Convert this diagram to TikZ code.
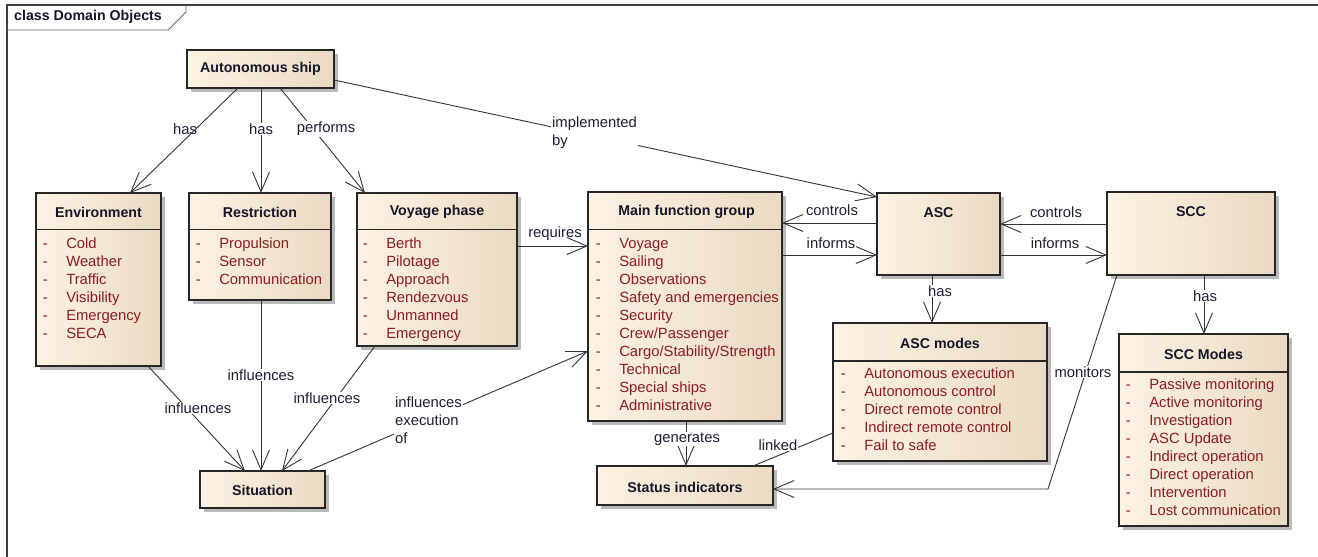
\documentclass[tikz,border=0pt]{standalone}
\usepackage{fontspec}
\setmainfont{Liberation Sans}
\usetikzlibrary{arrows.meta,shadows}

\definecolor{boxL}{RGB}{252,242,227}
\definecolor{boxR}{RGB}{234,218,195}
\definecolor{itemc}{RGB}{140,28,36}
\definecolor{ttlc}{RGB}{22,22,40}
\definecolor{lblc}{RGB}{30,30,50}

\newcommand{\itm}[1]{\strut\makebox[23.5pt][l]{-}#1}

\tikzset{
  cls/.style={draw=black!85, line width=1.2pt, left color=boxL, right color=boxR,
    anchor=north west, inner sep=0pt, outer sep=0pt,
    drop shadow={shadow xshift=4pt, shadow yshift=-4pt, fill=black!45, opacity=0.6}},
  ttl/.style={font=\bfseries\fontsize{14.2}{17}\selectfont, text=ttlc},
  attr/.style={font=\fontsize{14.8}{18}\selectfont, text=itemc, align=left,
    anchor=north west, inner sep=0pt},
  lbl/.style={font=\fontsize{14.8}{17}\selectfont, text=lblc, inner sep=1pt},
  onln/.style={lbl, fill=white},
  arr/.style={draw=black!80, line width=0.9pt, -{Straight Barb[length=20pt,width=17pt]}},
  ln/.style={draw=black!80, line width=0.9pt},
  sep/.style={draw=black!85, line width=1.2pt}
}

\begin{document}
\begin{tikzpicture}[x=1pt,y=-1pt]
\useasboundingbox (0,0) rectangle (1318,557);

% frame
\draw[line width=1.6pt, black!75] (1318,5) -- (7,5) -- (7,557);
\draw[line width=0.8pt, black!60] (7,30) -- (168,30) -- (186,12) -- (186,5);
\node[ttl] (frm) at (88,17) {class Domain Objects};

% classes
\node[cls, minimum width=147pt, minimum height=38pt] (ship) at (187,50) {};
\node[ttl] (shipT) at (260.5,69) {Autonomous ship};

\node[cls, minimum width=125pt, minimum height=173pt] (env) at (36,193) {};
\draw[sep] (36,229.5) -- (161,229.5);
\node[ttl] (envT) at (98.5,212) {Environment};
\node[attr] (envL) at (42.6,235.6) {\itm{Cold}\\\itm{Weather}\\\itm{Traffic}\\\itm{Visibility}\\\itm{Emergency}\\\itm{SECA}};

\node[cls, minimum width=142pt, minimum height=107pt] (rest) at (189,193) {};
\draw[sep] (189,229.5) -- (331,229.5);
\node[ttl] (restT) at (260,212) {Restriction};
\node[attr] (restL) at (195.6,235.6) {\itm{Propulsion}\\\itm{Sensor}\\\itm{Communication}};

\node[cls, minimum width=160pt, minimum height=153pt] (voy) at (357,193) {};
\draw[sep] (357,229.5) -- (517,229.5);
\node[ttl] (voyT) at (437,212) {Voyage phase};
\node[attr] (voyL) at (362.6,235.6) {\itm{Berth}\\\itm{Pilotage}\\\itm{Approach}\\\itm{Rendezvous}\\\itm{Unmanned}\\\itm{Emergency}};

\node[cls, minimum width=194pt, minimum height=229pt] (mfg) at (588,192) {};
\draw[sep] (588,229.5) -- (782,229.5);
\node[ttl] (mfgT) at (686.5,212) {Main function group};
\node[attr] (mfgL) at (595.6,235.6) {\itm{Voyage}\\\itm{Sailing}\\\itm{Observations}\\\itm{Safety and emergencies}\\\itm{Security}\\\itm{Crew/Passenger}\\\itm{Cargo/Stability/Strength}\\\itm{Technical}\\\itm{Special ships}\\\itm{Administrative}};

\node[cls, minimum width=123pt, minimum height=82pt] (asc) at (877,193) {};
\node[ttl] (ascT) at (938.5,213) {ASC};

\node[cls, minimum width=168pt, minimum height=83pt] (scc) at (1107,192) {};
\node[ttl] (sccT) at (1191,212) {SCC};

\node[cls, minimum width=214pt, minimum height=138pt] (ascm) at (833,323) {};
\draw[sep] (833,361) -- (1047,361);
\node[ttl] (ascmT) at (940,343) {ASC modes};
\node[attr] (ascmL) at (840.6,365.6) {\itm{Autonomous execution}\\\itm{Autonomous control}\\\itm{Direct remote control}\\\itm{Indirect remote control}\\\itm{Fail to safe}};

\node[cls, minimum width=169pt, minimum height=192pt] (sccm) at (1119,334) {};
\draw[sep] (1119,372) -- (1288,372);
\node[ttl] (sccmT) at (1203.5,354) {SCC Modes};
\node[attr] (sccmL) at (1125.6,376.6) {\itm{Passive monitoring}\\\itm{Active monitoring}\\\itm{Investigation}\\\itm{ASC Update}\\\itm{Indirect operation}\\\itm{Direct operation}\\\itm{Intervention}\\\itm{Lost communication}};

\node[cls, minimum width=125pt, minimum height=37pt] (sit) at (200,471) {};
\node[ttl] (sitT) at (262.5,490) {Situation};

\node[cls, minimum width=176pt, minimum height=39pt] (stat) at (597,466) {};
\node[ttl] (statT) at (685,487) {Status indicators};

% connectors
\draw[arr] ([xshift=51pt]ship.south west) -- ([xshift=94pt]env.north west);
\draw[arr] ([xshift=74pt]ship.south west) -- ([xshift=72pt]rest.north west);
\draw[arr] ([xshift=93pt]ship.south west) -- ([xshift=8pt]voy.north west);
\draw[arr] ([yshift=-30pt]ship.north east) -- ([yshift=-4pt]asc.north west);
\draw[arr] ([yshift=-53pt]voy.north east) -- ([yshift=-54pt]mfg.north west);
\draw[arr] ([yshift=-30pt]asc.north west) -- ([yshift=-31pt]mfg.north east);
\draw[arr] ([yshift=-63pt]mfg.north east) -- ([yshift=-62pt]asc.north west);
\draw[arr] ([yshift=-32pt]scc.north west) -- ([yshift=-31pt]asc.north east);
\draw[arr] ([yshift=-62pt]asc.north east) -- ([yshift=-63pt]scc.north west);
\draw[arr] ([xshift=55pt]asc.south west) -- ([xshift=99pt]ascm.north west);
\draw[arr] ([xshift=97pt]scc.south west) -- ([xshift=85pt]sccm.north west);
\draw[arr] ([xshift=10pt]scc.south west) -- (1048,489) -- ([yshift=-23pt]stat.north east);
\draw[arr] ([xshift=98pt]mfg.south west) -- ([xshift=89pt]stat.north west);
\draw[ln] ([xshift=156pt]stat.north west) -- ([yshift=-110pt]ascm.north west);
\draw[arr] ([xshift=112pt]env.south west) -- ([xshift=45pt]sit.north west);
\draw[arr] ([xshift=72pt]rest.south west) -- ([xshift=61pt]sit.north west);
\draw[arr] ([xshift=18pt]voy.south west) -- ([xshift=82pt]sit.north west);
\draw[arr] ([xshift=108pt]sit.north west) -- ([yshift=-159pt]mfg.north west);

% labels
\node[lbl] (lHasEnv) at (185,129) {has};
\node[onln] (lHasRest) at (261,129) {has};
\node[onln] (lPerf) at (326,129) {performs};
\node[onln, align=left, anchor=west, font=\fontsize{14.8}{18}\selectfont] (lImpl) at (551,133) {implemented\\by};
\node[lbl] (lReq) at (555,234) {requires};
\node[lbl] (lCtrl1) at (832,210) {controls};
\node[lbl] (lInf1) at (831,243) {informs};
\node[lbl] (lCtrl2) at (1056,212) {controls};
\node[lbl] (lInf2) at (1055,243) {informs};
\node[onln] (lHasAsc) at (940,291) {has};
\node[onln] (lHasScc) at (1205,296) {has};
\node[onln] (lMon) at (1083,372) {monitors};
\node[onln] (lGen) at (687,439) {generates};
\node[onln] (lLink) at (778,445) {linked};
\node[onln] (lInfEnv) at (198,408) {influences};
\node[onln] (lInfRest) at (261,375) {influences};
\node[onln] (lInfVoy) at (327,398) {influences};
\node[onln, align=left, anchor=west, font=\fontsize{14.8}{18}\selectfont] (lInfExe) at (394,420) {influences\\execution\\of};
\end{tikzpicture}
\end{document}
